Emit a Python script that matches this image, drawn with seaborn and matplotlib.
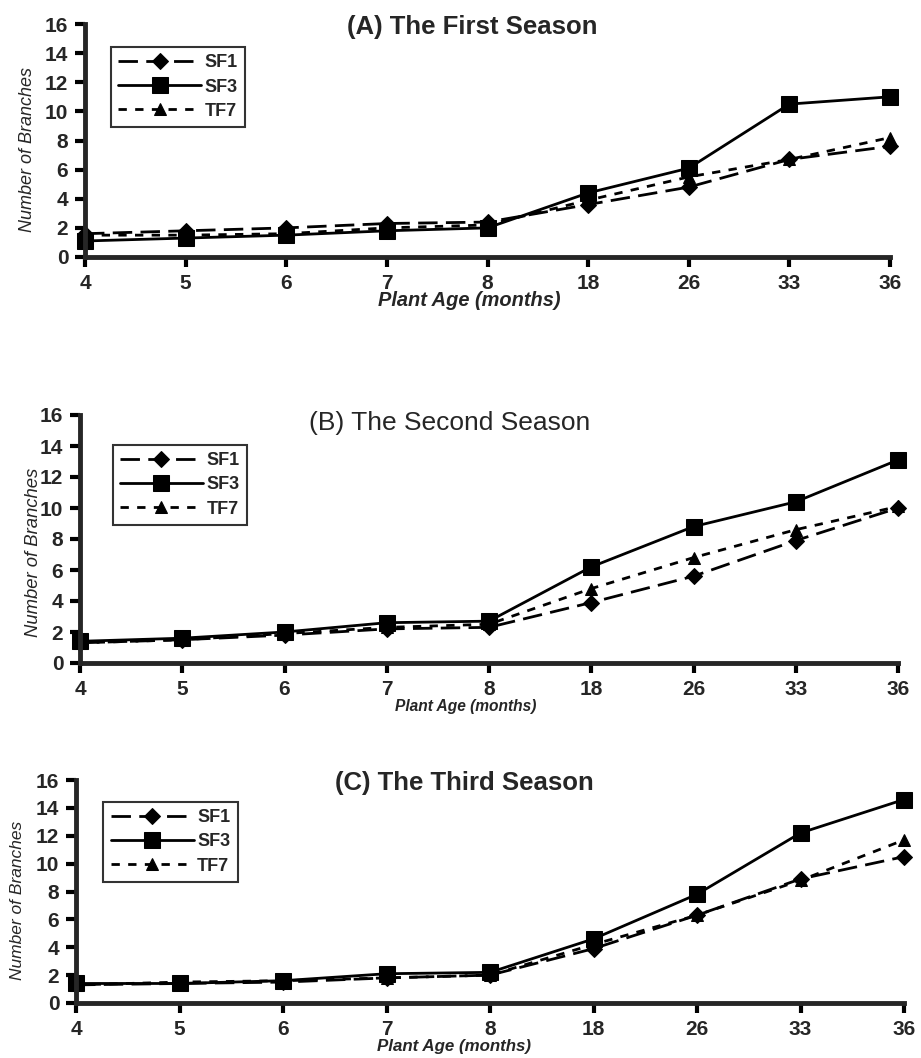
import numpy as np
import pandas as pd
import seaborn as sns
import matplotlib.pyplot as plt

# data
ages = ["4", "5", "6", "7", "8", "18", "26", "33", "36"]
varieties = ["SF1", "SF3", "TF7"]

sf1_a = [1.6, 1.8, 2.0, 2.3, 2.4, 3.6, 4.8, 6.7, 7.6]
sf3_a = [1.1, 1.3, 1.5, 1.8, 2.0, 4.4, 6.1, 10.5, 11.0]
tf7_a = [1.5, 1.5, 1.6, 2.0, 2.2, 3.9, 5.5, 6.7, 8.2]

sf1_b = [1.3, 1.5, 1.8, 2.2, 2.3, 3.9, 5.6, 7.9, 10.0]
sf3_b = [1.4, 1.6, 2.0, 2.6, 2.7, 6.2, 8.8, 10.4, 13.1]
tf7_b = [1.3, 1.5, 1.9, 2.3, 2.5, 4.8, 6.8, 8.6, 10.1]

sf1_c = [1.3, 1.4, 1.5, 1.8, 2.0, 3.9, 6.3, 8.9, 10.5]
sf3_c = [1.4, 1.4, 1.6, 2.1, 2.2, 4.6, 7.8, 12.2, 14.6]
tf7_c = [1.3, 1.5, 1.6, 1.8, 2.0, 4.2, 6.3, 8.8, 11.7]

titles = ["(A) The First Season", "(B) The Second Season", "(C) The Third Season"]
seasons = [(sf1_a, sf3_a, tf7_a), (sf1_b, sf3_b, tf7_b), (sf1_c, sf3_c, tf7_c)]

sns.set_theme(style="ticks")
plt.rcParams['font.family'] = ['Liberation Sans', 'DejaVu Sans']

styles = {
    "SF1": dict(marker="D", markersize=8, dashes=(7, 3)),
    "SF3": dict(marker="s", markersize=12, dashes=None),
    "TF7": dict(marker="^", markersize=9, dashes=(3, 3)),
}

W, H = 921, 1058
fig = plt.figure(figsize=(W / 100, H / 100), dpi=100)
fig.patch.set_facecolor("white")

# per panel layout, in pixels of the reference
boxes = [(85, 890, 24, 257), (80, 898, 415, 663), (76, 904, 780, 1003)]
title_pos = [(0.481, 0.987), (0.452, 0.968), (0.469, 0.987)]
title_bold = [True, False, True]
title_size = [18.5, 19, 18.5]
legend_pos = [(0.032, 0.901), (0.040, 0.879), (0.033, 0.902)]
xlabel_pos = [(469, 301), (466, 707), (454, 1047)]
xlabel_size = [14.4, 11.2, 12.2]
ylabel_pos = [(28, 150), (33, 552), (18, 900)]
ylabel_size = [13, 13.3, 12.5]

for i, (l, r, t, b) in enumerate(boxes):
    ax = fig.add_axes([l / W, 1 - b / H, (r - l) / W, (b - t) / H])
    for name, vals in zip(varieties, seasons[i]):
        st = styles[name]
        sns.lineplot(x=ages, y=vals, ax=ax, color="black", linewidth=2,
                     marker=st["marker"], markersize=st["markersize"],
                     markeredgecolor="black", label=name, clip_on=False)
        if st["dashes"] is not None:
            ax.get_lines()[-1].set_dashes(st["dashes"])
    ax.set_xlim(0, len(ages) - 1)
    ax.set_ylim(0, 16)
    ax.set_yticks(np.arange(0, 17, 2))
    ax.set_xlabel("")
    ax.set_ylabel("")
    ax.tick_params(axis="both", labelsize=15, width=3, length=7, pad=5, color="black")
    for lab in ax.get_xticklabels() + ax.get_yticklabels():
        lab.set_fontweight("bold")
    sns.despine(ax=ax)
    ax.spines["left"].set_linewidth(3.5)
    ax.spines["bottom"].set_linewidth(3.5)
    tx, ty = title_pos[i]
    ax.text(tx, ty, titles[i], transform=ax.transAxes, ha="center", va="center",
            fontsize=title_size[i], fontweight="bold" if title_bold[i] else "normal")
    leg = ax.legend(loc="upper left", bbox_to_anchor=legend_pos[i], frameon=True,
                    fancybox=False, edgecolor="black", handlelength=4.6,
                    fontsize=13, borderpad=0.4, labelspacing=0.4,
                    handletextpad=0.2, borderaxespad=0)
    leg.get_frame().set_linewidth(1.5)
    for txt in leg.get_texts():
        txt.set_fontweight("bold")
    xl, yl = xlabel_pos[i]
    fig.text(xl / W, 1 - yl / H, "Plant Age (months)", ha="center", va="center",
             fontsize=xlabel_size[i], style="italic", fontweight="bold")
    px, py = ylabel_pos[i]
    fig.text(px / W, 1 - py / H, "Number of Branches", ha="center", va="center",
             rotation=90, fontsize=ylabel_size[i], style="italic")

fig.savefig("out.png", dpi=100, facecolor="white")
